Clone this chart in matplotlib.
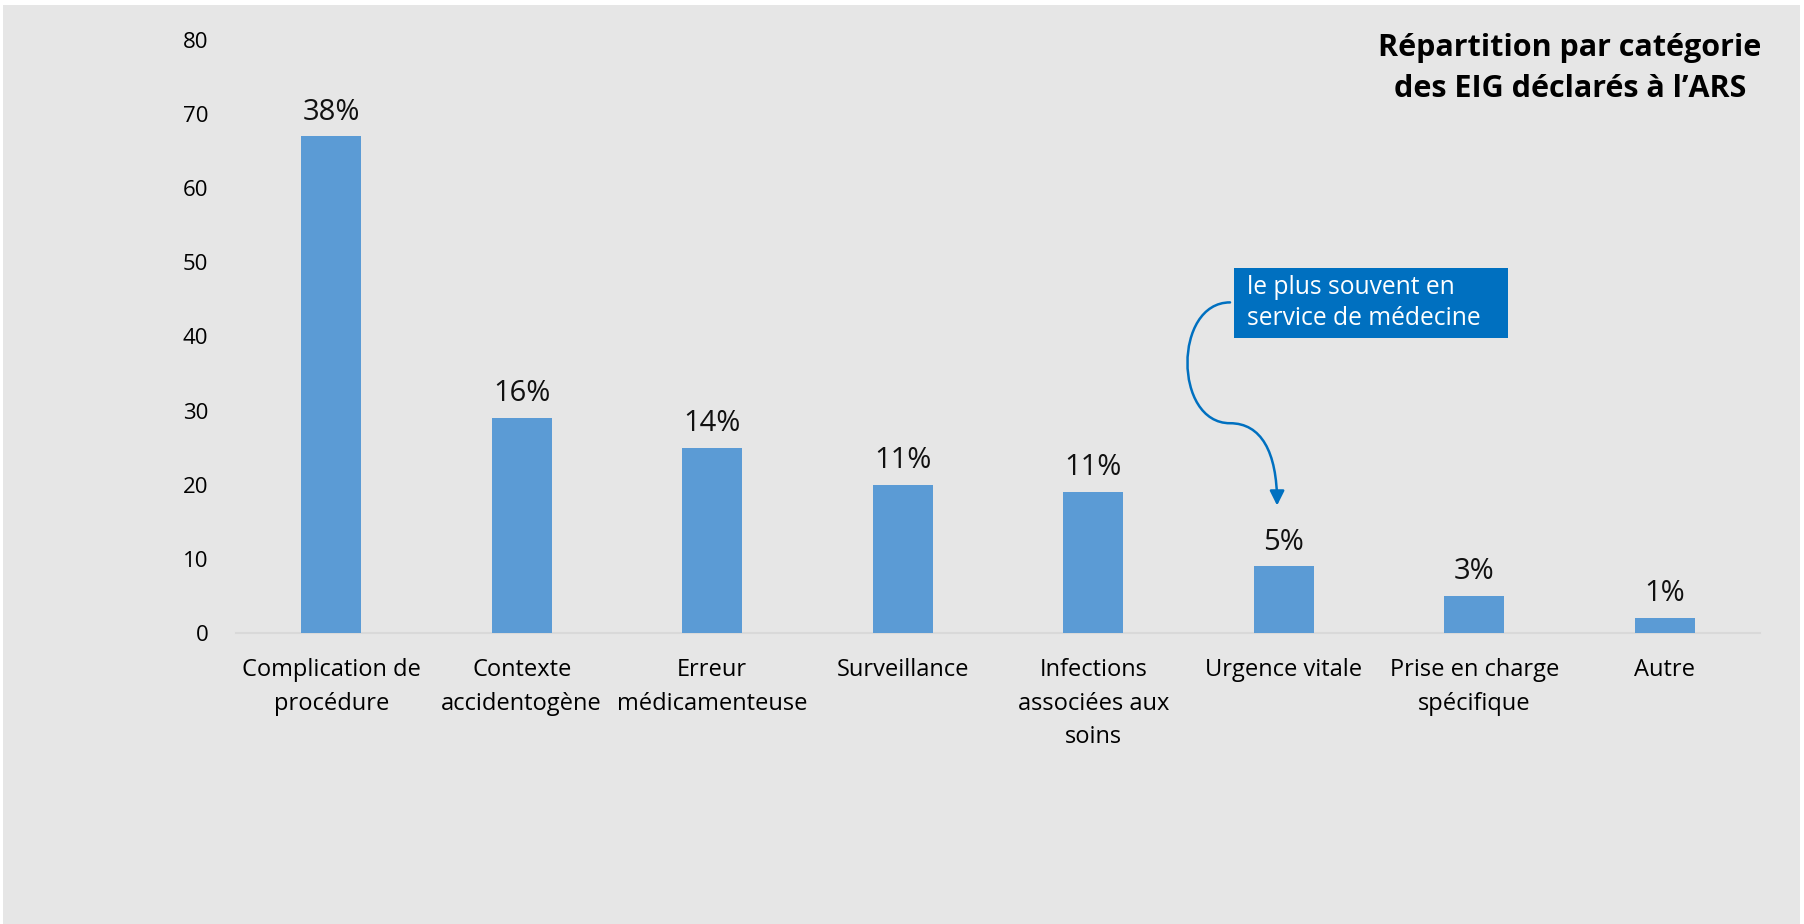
import matplotlib
matplotlib.use('Agg')
import matplotlib.pyplot as plt
from matplotlib.path import Path
from matplotlib.patches import FancyArrowPatch, Rectangle
import numpy as np

plt.rcParams['font.family'] = ['Open Sans', 'DejaVu Sans']

# Donnees
categories = ['Complication de\nprocédure', 'Contexte\naccidentogène', 'Erreur\nmédicamenteuse',
              'Surveillance', 'Infections\nassociées aux\nsoins', 'Urgence vitale',
              'Prise en charge\nspécifique', 'Autre']
valeurs = [67, 29, 25, 20, 19, 9, 5, 2]
pourcentages = ['38%', '16%', '14%', '11%', '11%', '5%', '3%', '1%']
yticks = [0, 10, 20, 30, 40, 50, 60, 70, 80]

titre = 'Répartition par catégorie\ndes EIG déclarés à l’ARS'
note = 'le plus souvent en\nservice de médecine'

fond = '#E6E6E6'
bleu = '#5B9BD5'
bleu_note = '#0070C0'

W, H = 1804, 924
fig = plt.figure(figsize=(W / 100, H / 100), dpi=100)
fig.patch.set_facecolor('white')
# fond gris avec petite marge blanche
fig.add_artist(Rectangle((3 / W, 0), 1797 / W, 919 / H, transform=fig.transFigure,
                         facecolor=fond, edgecolor='none', zorder=0))

ax = fig.add_axes([236 / W, (H - 633) / H, 1524 / W, 593 / H])
ax.set_facecolor('none')

x = np.arange(len(categories))
bars = ax.bar(x, valeurs, width=0.315, color=bleu, zorder=3)

ax.set_xlim(-0.5, len(categories) - 0.5)
ax.set_ylim(0, 80)
ax.set_yticks(yticks)
ax.set_xticks(x)
ax.set_xticklabels(categories, fontsize=17, linespacing=1.53, va='top')
ax.tick_params(axis='y', length=0, labelsize=16, pad=20)
ax.tick_params(axis='x', length=0, pad=18)
for s in ['top', 'right', 'left']:
    ax.spines[s].set_visible(False)
ax.spines['bottom'].set_color('#D9D9D9')
ax.spines['bottom'].set_linewidth(1.5)

for b, p in zip(bars, pourcentages):
    ax.annotate(p, (b.get_x() + b.get_width() / 2, b.get_height()),
                xytext=(0, 7), textcoords='offset points',
                ha='center', va='bottom', fontsize=21, color='#111111')

# titre
fig.text(1570 / W, 1 - 68.5 / H, titre, ha='center', va='center', fontsize=22,
         fontweight='bold', linespacing=1.45, color='black')

# encadre bleu
fig.add_artist(Rectangle((1234 / W, 1 - 338 / H), 274 / W, 70 / H, transform=fig.transFigure,
                         facecolor=bleu_note, edgecolor='none', zorder=5))
fig.text(1247 / W, 1 - 303 / H, note, ha='left', va='center', fontsize=17.7,
         color='white', linespacing=1.3, zorder=6)

# fleche courbe vers "Urgence vitale"
verts = [(4.718, 44.6), (4.42, 44.6), (4.42, 28.3), (4.718, 28.3),
         (4.88, 28.3), (4.965, 24.5), (4.965, 17.2)]
codes = [Path.MOVETO, Path.CURVE4, Path.CURVE4, Path.CURVE4,
         Path.CURVE4, Path.CURVE4, Path.CURVE4]
fleche = FancyArrowPatch(path=Path(verts, codes), arrowstyle='-|>', mutation_scale=22,
                         color=bleu_note, linewidth=1.8, zorder=4)
ax.add_patch(fleche)

fig.savefig('out.png', dpi=100, facecolor=fig.get_facecolor())
